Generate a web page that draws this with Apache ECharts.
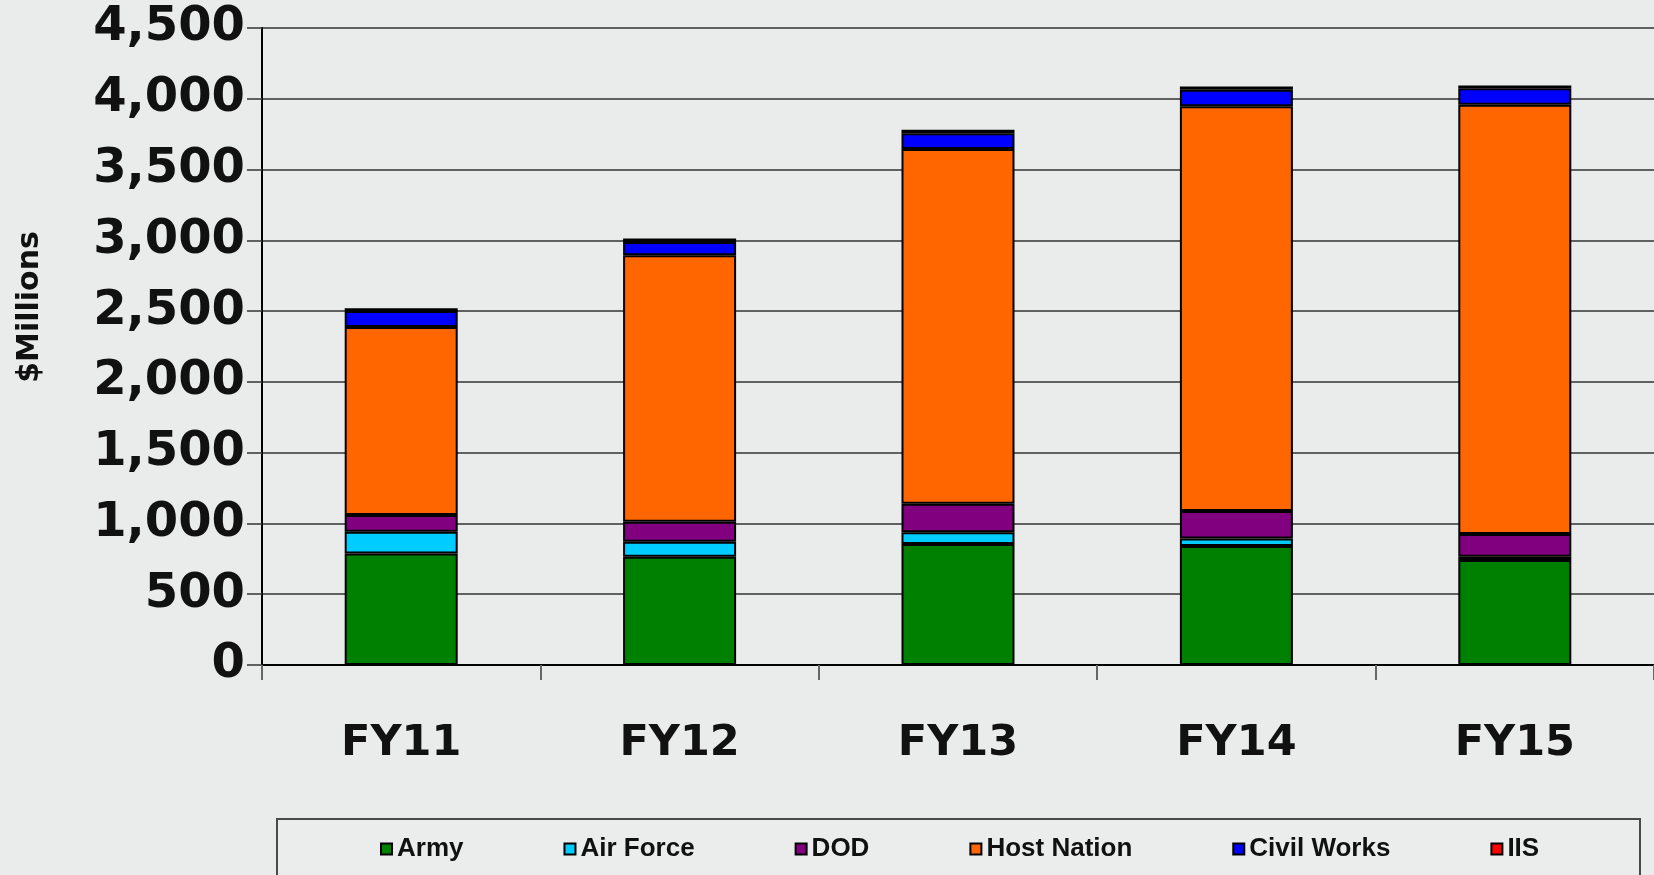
<!DOCTYPE html>
<html>
<head>
<meta charset="utf-8">
<script src="https://cdn.jsdelivr.net/npm/echarts@6/dist/echarts.min.js"></script>
<style>
html,body{margin:0;padding:0;background:#e9ecea;}
#c{width:1654px;height:875px;}
</style>
</head>
<body>
<div id="c"></div>
<script>
const categories = ['FY11', 'FY12', 'FY13', 'FY14', 'FY15'];
const army       = [788, 764, 855, 840, 742];
const airForce   = [153, 106, 83, 53, 22];
const dod        = [118, 142, 202, 195, 162];
const hostNation = [1328, 1882, 2506, 2860, 3032];
const civilWorks = [113, 94, 111, 116, 117];
const iis        = [20, 25, 25, 23, 18];
const yTicks = [0, 500, 1000, 1500, 2000, 2500, 3000, 3500, 4000, 4500];

const seriesDefs = [
  ['Army', army, '#008000'],
  ['Air Force', airForce, '#00CCFF'],
  ['DOD', dod, '#800080'],
  ['Host Nation', hostNation, '#FF6600'],
  ['Civil Works', civilWorks, '#0000FF'],
  ['IIS', iis, '#FF0000']
];

const chart = echarts.init(document.getElementById('c'));
const font = 'Liberation Sans, Arial, sans-serif';
const wide = 'DejaVu Sans, sans-serif';
chart.setOption({
  backgroundColor: '#e9ecea',
  animation: false,
  grid: {left: 262, top: 28, bottom: 210, right: -6, containLabel: false},
  graphic: [
    {type: 'rect', shape: {x: 277, y: 819, width: 1363, height: 80},
     style: {fill: '#eaedeb', stroke: '#4a4a4a', lineWidth: 2}, z: -1},
    {type: 'text', x: 30, y: 307, rotation: Math.PI / 2,
     style: {text: '$Millions', fontSize: 30, fontWeight: 'bold', fontFamily: wide,
             fill: '#111', align: 'center', verticalAlign: 'middle'}}
  ],
  legend: {
    left: 380, top: 836, padding: 0, itemGap: 100,
    itemWidth: 11, itemHeight: 11, icon: 'rect',
    textStyle: {fontSize: 26, fontWeight: 'bold', fontFamily: font, color: '#111'},
    data: seriesDefs.map(d => d[0])
  },
  xAxis: {
    type: 'category', data: categories,
    axisLine: {lineStyle: {color: '#000', width: 2}},
    axisTick: {show: true, length: 15, lineStyle: {color: '#666', width: 2}},
    axisLabel: {fontSize: 43, fontWeight: 'bold', fontFamily: wide, color: '#111', margin: 57}
  },
  yAxis: {
    type: 'value', min: 0, max: 4500, interval: 500,
    axisLine: {show: true, lineStyle: {color: '#000', width: 2}},
    axisTick: {show: true, length: 15, lineStyle: {color: '#333', width: 1.5}},
    splitLine: {lineStyle: {color: '#333', width: 1.5}},
    axisLabel: {fontSize: 48, fontWeight: 'bold', fontFamily: wide, color: '#111', margin: 17,
                formatter: v => yTicks.includes(v) ? v.toLocaleString('en-US') : ''}
  },
  series: seriesDefs.map(d => ({
    name: d[0], type: 'bar', stack: 'total', data: d[1], barWidth: 113,
    itemStyle: {color: d[2], borderColor: '#000', borderWidth: 2}
  }))
});
</script>
</body>
</html>
